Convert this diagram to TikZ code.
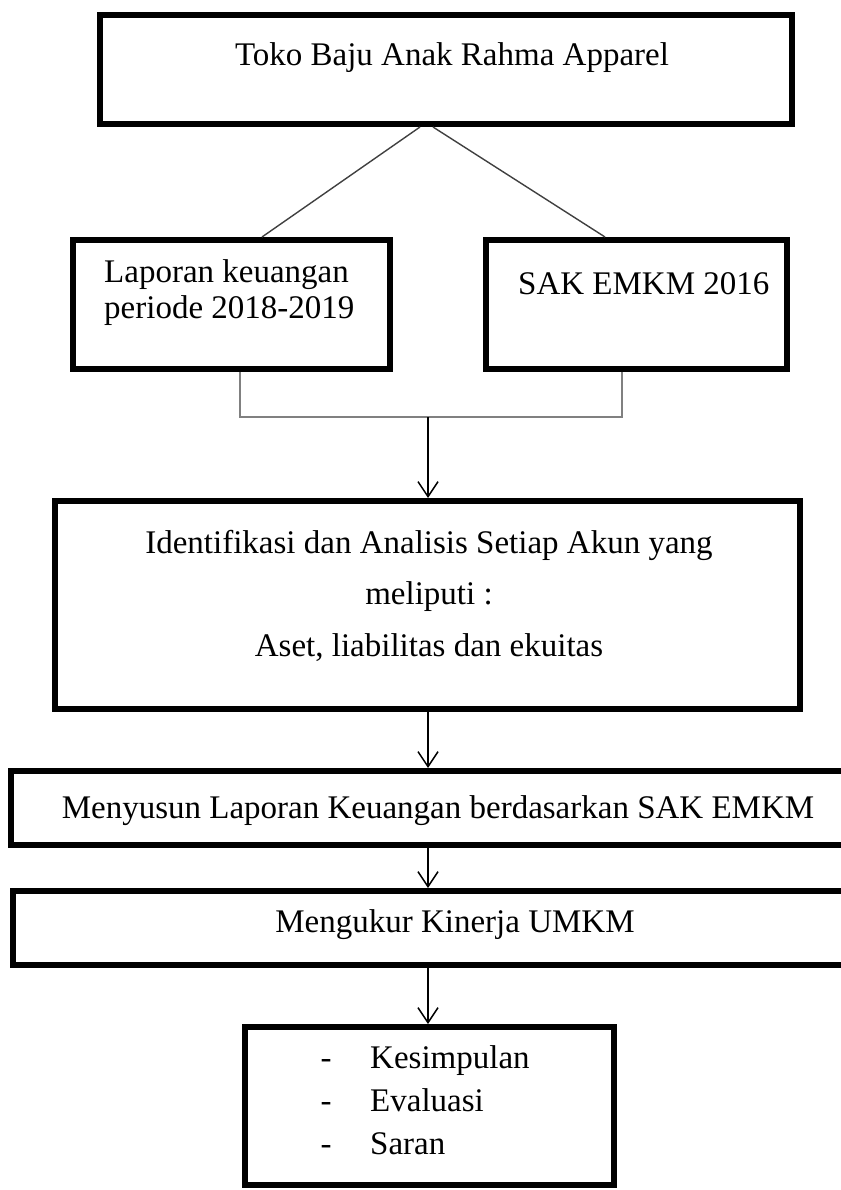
\documentclass[tikz,border=0pt]{standalone}
\usepackage{fontspec}
\setmainfont{Liberation Serif}
\usetikzlibrary{arrows.meta}
\tikzset{
  kotak/.style={draw, line width=6pt, inner sep=0pt, anchor=north west},
  teks/.style={inner sep=0pt, font=\fontsize{33}{37}\selectfont},
  panah/.style={-{Straight Barb[length=15pt,width=20pt]}, line width=1.5pt},
  miring/.style={black!75, line width=1.4pt},
  garis/.style={gray, line width=1.3pt},
}
\begin{document}
\begin{tikzpicture}[x=1pt,y=-1pt]
        \useasboundingbox (0,0) rectangle (840,1190);
        % Kotak
        \node[kotak, minimum width=692pt, minimum height=109pt] (toko) at (97,12) {};
        \node[kotak, minimum width=317pt, minimum height=129pt] (lapor) at (70,237) {};
        \node[kotak, minimum width=301pt, minimum height=129pt] (sak) at (483,237) {};
        \node[kotak, minimum width=745pt, minimum height=208pt] (ident) at (52,498) {};
        \node[kotak, minimum width=834pt, minimum height=74pt] (susun) at (8,768) {};
        \node[kotak, minimum width=834pt, minimum height=74pt] (ukur) at (10,888) {};
        \node[kotak, minimum width=369pt, minimum height=158pt] (simpul) at (242,1024) {};
        % Teks
        \node[teks, anchor=base] (tokoteks) at (452,66) {Toko Baju Anak Rahma Apparel};
        \node[teks, anchor=base west] (lapor1) at (104,282) {Laporan keuangan};
        \node[teks, anchor=base west] (lapor2) at (104,318) {periode 2018-2019};
        \node[teks, anchor=base west] (sakteks) at (518,294) {SAK EMKM 2016};
        \node[teks, anchor=base] (ident1) at (429,553) {Identifikasi dan Analisis Setiap Akun yang};
        \node[teks, anchor=base] (ident2) at (429,604) {meliputi :};
        \node[teks, anchor=base] (ident3) at (429,656) {Aset, liabilitas dan ekuitas};
        \node[teks, anchor=base] (susunteks) at (438,818) {Menyusun Laporan Keuangan berdasarkan SAK EMKM};
        \node[teks, anchor=base] (ukurteks) at (455,932) {Mengukur Kinerja UMKM};
        \foreach \kata [count=\i] in {Kesimpulan,Evaluasi,Saran} {
          \node[teks, anchor=base] (dash\i) at (326,1025+43*\i) {-};
          \node[teks, anchor=base west] (item\i) at (370,1025+43*\i) {\kata};
        }
        % Garis
        \coordinate (ka) at (240,417);
        \coordinate (kb) at (622,417);
        \coordinate (tengah) at (428,417);
        \draw[miring] (toko.south -| 420,0) -- (lapor.north -| 262,0);
        \draw[miring] (toko.south -| 433,0) -- (sak.north -| 605,0);
        \draw[garis] (lapor.south -| ka) -- (ka) -- (kb) -- (sak.south -| kb);
        % Panah
        \draw[panah] (tengah) -- (ident.north -| tengah);
        \draw[panah] (ident.south -| tengah) -- (susun.north -| tengah);
        \draw[panah] (susun.south -| tengah) -- (ukur.north -| tengah);
        \draw[panah] (ukur.south -| tengah) -- (simpul.north -| tengah);
\end{tikzpicture}
\end{document}
